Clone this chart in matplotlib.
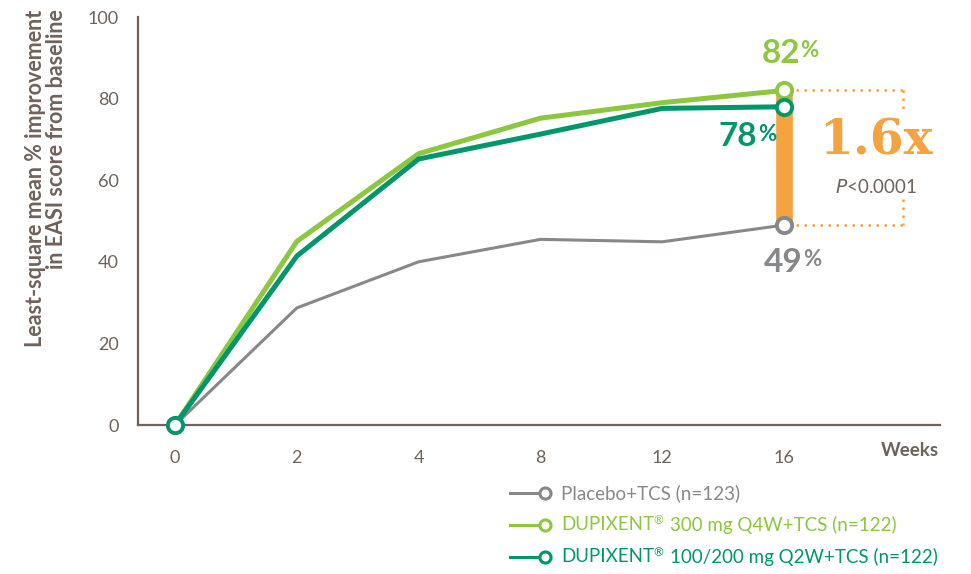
import matplotlib.pyplot as plt
from matplotlib.lines import Line2D

# EASI improvement over time by treatment arm
weeks = ["0", "2", "4", "8", "12", "16"]
placebo = [0, 28.7, 40, 45.5, 44.9, 49]
q4w_300 = [0, 45, 66.5, 75.2, 79.0, 82]
q2w_100_200 = [0, 41.4, 65.2, 71.3, 77.6, 78]

labels = [("Placebo+TCS (n=123)", "", ""),
          ("DUPIXENT", "\u00ae", "300 mg Q4W+TCS (n=122)"),
          ("DUPIXENT", "\u00ae", "100/200 mg Q2W+TCS (n=122)")]
ratio_text = "1.6x"
p_text = "<0.0001"

GRAY = "#87888a"
LIME = "#8dc63f"
TEAL = "#00966c"
ORANGE = "#f4a340"
AXIS = "#6e625b"

plt.rcParams["font.family"] = ["Lato", "DejaVu Sans"]

fig = plt.figure(figsize=(9.71, 5.74), dpi=100)
ax = fig.add_axes([138 / 971, 1 - 425 / 574, (940 - 138) / 971, (425 - 17) / 574])

x = list(range(len(weeks)))
last = x[-1]

# orange bar spanning placebo to 300 mg at week 16
ax.plot([last, last], [placebo[-1], q4w_300[-1]], color=ORANGE, lw=12,
        solid_capstyle="butt", zorder=2)

ax.plot(x, placebo, color=GRAY, lw=2.2, zorder=3)
ax.plot(x, q4w_300, color=LIME, lw=3.6, zorder=4)
ax.plot(x, q2w_100_200, color=TEAL, lw=3.6, zorder=5)

mk = dict(marker="o", ms=11, mfc="white", mew=2.8, ls="none", zorder=6,
          clip_on=False)
ax.plot([last], [placebo[-1]], mec=GRAY, **mk)
ax.plot([last], [q4w_300[-1]], mec=LIME, **mk)
ax.plot([last], [q2w_100_200[-1]], mec=TEAL, **mk)
ax.plot([0], [q2w_100_200[0]], mec=TEAL, **mk)

ax.set_xlim(-0.304, 6.28)
ax.set_ylim(0, 100)
ax.set_xticks(x)
ax.set_xticklabels(weeks)
ax.set_yticks([0, 20, 40, 60, 80, 100])
for s in ["top", "right"]:
    ax.spines[s].set_visible(False)
for s in ["left", "bottom"]:
    ax.spines[s].set_color(AXIS)
    ax.spines[s].set_linewidth(1.6)
ax.tick_params(length=0, colors=AXIS, labelsize=13)
ax.tick_params(axis="x", pad=18)
ax.tick_params(axis="y", pad=14)

ax.set_ylabel("Least-square mean % improvement\nin EASI score from baseline",
              fontsize=15.5, fontweight="bold", color=AXIS, linespacing=1.05,
              multialignment="right")
ax.yaxis.set_label_coords(-0.088, 0.605)
ax.text(6.03, -6.2, "Weeks", fontsize=13.5, fontweight="bold", color=AXIS,
        ha="center", va="center")

# end-point value labels
def pct(xv, yv, val, color):
    t = ax.text(xv, yv, f"{val:.0f}", fontsize=24, fontweight="bold",
                color=color, ha="right", va="center")
    ax.annotate("%", xy=(1.01, 0.6), xycoords=t, fontsize=16, fontweight="bold",
                color=color, ha="left", va="center")

pct(last + 0.13, q4w_300[-1] + 9.1, q4w_300[-1], LIME)
pct(last - 0.22, q2w_100_200[-1] - 7.4, q2w_100_200[-1], TEAL)
pct(last + 0.15, placebo[-1] - 9.1, placebo[-1], GRAY)

# dotted bracket for the ratio
bx0, bx1 = last + 0.1, last + 0.98
dot = dict(color=ORANGE, lw=1.8, ls=(0, (1, 2.2)), zorder=1)
ax.plot([bx0, bx1], [q4w_300[-1]] * 2, **dot)
ax.plot([bx0, bx1], [placebo[-1]] * 2, **dot)
ax.plot([bx1, bx1], [q4w_300[-1], q4w_300[-1] - 5.5], **dot)
ax.plot([bx1, bx1], [placebo[-1] + 6.5, placebo[-1]], **dot)

ax.text(last + 0.75, 69.6, ratio_text, fontsize=35, fontweight="bold",
        family=["DejaVu Serif"], color=ORANGE, ha="center", va="center")
ax.text(last + 0.75, 58.4, "$\\it{P}$" + p_text, fontsize=13.5, color=AXIS,
        ha="center", va="center")

# legend drawn by hand
colors = [GRAY, LIME, TEAL]
ys = [493, 525, 557]
for (head, reg, tail), c, yy in zip(labels, colors, ys):
    fy = 1 - yy / 574
    fig.add_artist(Line2D([510 / 971, 540 / 971], [fy, fy], color=c, lw=2.2))
    fig.add_artist(Line2D([545 / 971], [fy], marker="o", ms=8, mfc="white",
                          mec=c, mew=2.2))
    t = fig.text(561 / 971, fy, head, fontsize=13.5, color=c, va="center",
                 ha="left")
    if reg:
        r = fig.add_artist(plt.Annotation(reg, xy=(0.99, 0.78), xycoords=t,
                                          fontsize=8.5, color=c, va="center",
                                          ha="left"))
        fig.add_artist(plt.Annotation(tail, xy=(1.0, 0.5), xycoords=(r, t),
                                      xytext=(5, 0), textcoords="offset points",
                                      fontsize=13.5, color=c, va="center",
                                      ha="left", annotation_clip=False))

fig.savefig("out.png", dpi=100)
